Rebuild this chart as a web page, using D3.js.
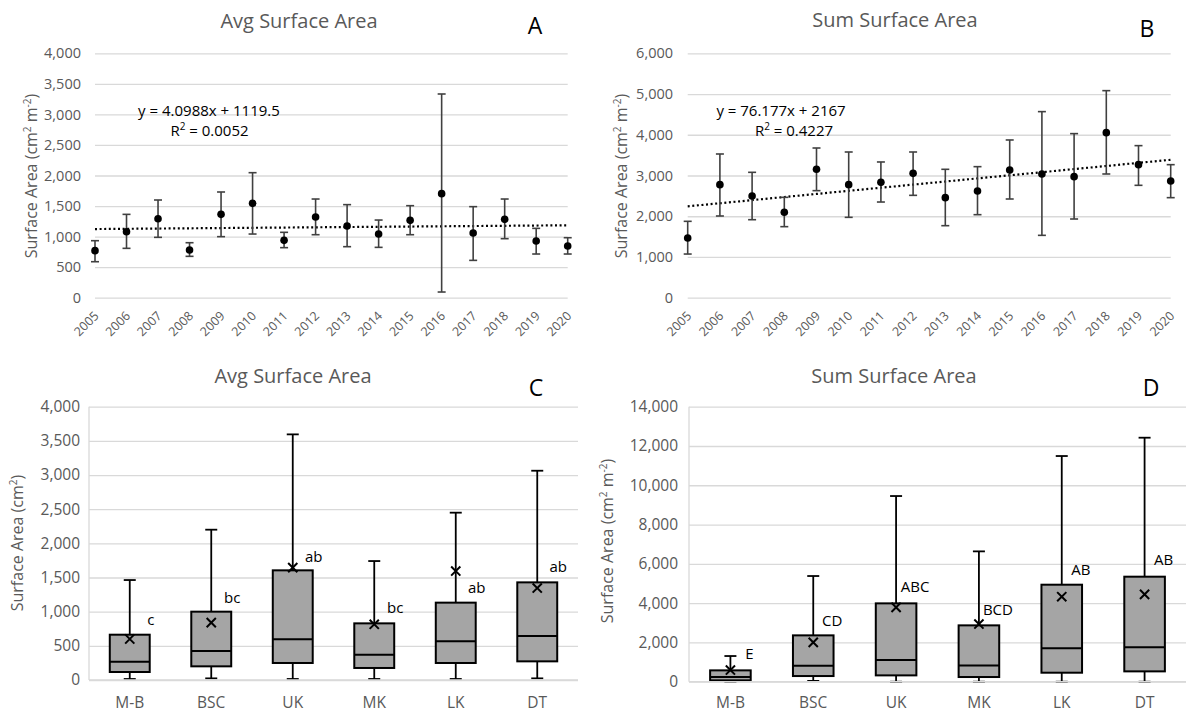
<!DOCTYPE html>
<html>
<head>
<meta charset="utf-8">
<script src="https://cdn.jsdelivr.net/npm/d3@7/dist/d3.min.js"></script>
<style>
  html, body { margin: 0; padding: 0; background: #fff; }
  svg { display: block; font-family: "Open Sans", sans-serif; }
</style>
</head>
<body>
<svg id="chart" width="1187" height="713"></svg>
<script>
// ---------- DATA ----------
const years = ["2005","2006","2007","2008","2009","2010","2011","2012","2013","2014","2015","2016","2017","2018","2019","2020"];

const avgMean  = [770, 1080, 1293, 780, 1364, 1544, 939, 1321, 1173, 1042, 1266, 1703, 1059, 1282, 928, 846];
const avgUpper = [933, 1364, 1599, 900, 1730, 2046, 1070, 1615, 1523, 1271, 1506, 3334, 1490, 1615, 1135, 982];
const avgLower = [589, 808, 988, 677, 999, 1042, 819, 1031, 835, 824, 1031, 93, 611, 966, 715, 715];
const avgTrend = { slope: 4.0988, intercept: 1119.5, r2: "0.0052" };
const avgYTicks = [0, 500, 1000, 1500, 2000, 2500, 3000, 3500, 4000];

const sumMean  = [1465, 2775, 2497, 2096, 3152, 2775, 2832, 3053, 2456, 2620, 3135, 3037, 2972, 4052, 3266, 2865];
const sumUpper = [1875, 3528, 3078, 2464, 3675, 3577, 3332, 3577, 3152, 3217, 3872, 4568, 4028, 5083, 3733, 3266];
const sumLower = [1072, 2006, 1915, 1744, 2628, 1973, 2349, 2513, 1768, 2038, 2423, 1531, 1932, 3037, 2759, 2456];
const sumTrend = { slope: 76.177, intercept: 2167, r2: "0.4227" };
const sumYTicks = [0, 1000, 2000, 3000, 4000, 5000, 6000];

const sites = ["M-B", "BSC", "UK", "MK", "LK", "DT"];

const avgBoxMin    = [15, 24, 15, 15, 15, 24];
const avgBoxQ1     = [117, 200, 249, 176, 249, 273];
const avgBoxMedian = [268, 424, 595, 371, 566, 644];
const avgBoxQ3     = [663, 1000, 1605, 829, 1132, 1429];
const avgBoxMax    = [1463, 2200, 3595, 1741, 2449, 3063];
const avgBoxMeanV  = [600, 839, 1644, 815, 1595, 1346];
const avgLetters   = ["c", "bc", "ab", "bc", "ab", "ab"];
const avgLetterY   = [878, 1205, 1805, 1058, 1356, 1658];
const avgBoxTicks  = [0, 500, 1000, 1500, 2000, 2500, 3000, 3500, 4000];

const sumBoxMin    = [0, 40, 0, 0, 0, 0];
const sumBoxQ1     = [68, 288, 322, 238, 458, 526];
const sumBoxMedian = [238, 815, 1103, 831, 1697, 1748];
const sumBoxQ3     = [577, 2359, 3988, 2868, 4938, 5346];
const sumBoxMax    = [1307, 5380, 9452, 6635, 11489, 12422];
const sumBoxMeanV  = [594, 2002, 3784, 2936, 4327, 4446];
const sumLetters   = ["E", "CD", "ABC", "BCD", "AB", "AB"];
const sumLetterY   = [1442, 3089, 4836, 3682, 5685, 6194];
const sumBoxTicks  = [0, 2000, 4000, 6000, 8000, 10000, 12000, 14000];

// ---------- STYLE ----------
const GRID = "#d9d9d9", TXT = "#595959";
const svg = d3.select("#chart");
const fmt = d3.format(",");

function yTitle(x, y, withM) {
  const t = svg.append("text")
    .attr("transform", `translate(${x},${y}) rotate(-90)`)
    .attr("text-anchor", "middle")
    .attr("fill", TXT)
    .attr("font-size", 16);
  t.append("tspan").text("Surface Area (cm");
  t.append("tspan").attr("font-size", 10).attr("dy", -6).text("2");
  if (withM) {
    t.append("tspan").attr("dy", 6).text(" m");
    t.append("tspan").attr("font-size", 10).attr("dy", -6).text("-2");
    t.append("tspan").attr("dy", 6).text(")");
  } else {
    t.append("tspan").attr("dy", 6).text(")");
  }
}

function titles(title, cx, by, letter, lx, ly) {
  svg.append("text").attr("x", cx).attr("y", by).attr("text-anchor", "middle")
    .attr("fill", TXT).attr("font-size", 20).text(title);
  svg.append("text").attr("x", lx).attr("y", ly).attr("text-anchor", "middle")
    .attr("fill", "#000").attr("font-size", 23).text(letter);
}

function gridAxis(g, y, ticks, x0, x1, pad, fs) {
  const ax = g.append("g").attr("transform", `translate(${x0},0)`)
    .call(d3.axisLeft(y).tickValues(ticks).tickFormat(fmt).tickSize(-(x1 - x0)).tickPadding(pad));
  ax.select(".domain").remove();
  ax.selectAll("line").attr("stroke", GRID).attr("stroke-width", 1.3);
  ax.selectAll("text").attr("fill", TXT).attr("font-size", fs).attr("font-family", "Open Sans");
}

// ---------- SCATTER PANELS ----------
function scatterPanel(cfg) {
  const g = svg.append("g");
  const x = d3.scalePoint().domain(years).range([cfg.x0, cfg.x1]);
  const y = d3.scaleLinear().domain([0, cfg.ticks[cfg.ticks.length - 1]]).range([cfg.yb, cfg.yt]);
  gridAxis(g, y, cfg.ticks, cfg.x0, cfg.x1, cfg.pad, 14.5);

  // rotated year labels
  const xa = g.append("g").attr("transform", `translate(0,${cfg.yb})`)
    .call(d3.axisBottom(x).tickSize(0));
  xa.select(".domain").remove();
  xa.selectAll("text").attr("x", 0).attr("y", 0).attr("dy", 0)
    .attr("text-anchor", "end").attr("transform", "translate(4,19) rotate(-45)")
    .attr("fill", TXT).attr("font-size", 12.5).attr("font-family", "Open Sans");

  // trendline
  const tl = years.map((yr, i) => [x(yr), y(cfg.trend.slope * (i + 1) + cfg.trend.intercept)]);
  g.append("path").attr("d", d3.line()(tl)).attr("fill", "none")
    .attr("stroke", "#000").attr("stroke-width", 2.2).attr("stroke-dasharray", "2,2.6");

  // error bars
  const eb = g.append("g").attr("stroke", "#404040").attr("stroke-width", 1.6);
  years.forEach((yr, i) => {
    const cx = x(yr);
    eb.append("line").attr("x1", cx).attr("x2", cx).attr("y1", y(cfg.upper[i])).attr("y2", y(cfg.lower[i]));
    eb.append("line").attr("x1", cx - 4).attr("x2", cx + 4).attr("y1", y(cfg.upper[i])).attr("y2", y(cfg.upper[i]));
    eb.append("line").attr("x1", cx - 4).attr("x2", cx + 4).attr("y1", y(cfg.lower[i])).attr("y2", y(cfg.lower[i]));
  });
  g.selectAll("circle.pt").data(cfg.mean).join("circle")
    .attr("cx", (d, i) => x(years[i])).attr("cy", d => y(d)).attr("r", 3.8).attr("fill", "#000");

  // equation
  const eq = `y = ${cfg.trend.slope}x + ${cfg.trend.intercept}`;
  svg.append("text").attr("x", cfg.eqx).attr("y", 116).attr("text-anchor", "middle")
    .attr("font-size", 15).attr("fill", "#000").text(eq);
  const r = svg.append("text").attr("x", cfg.r2x).attr("y", 136).attr("text-anchor", "middle")
    .attr("font-size", 15).attr("fill", "#000");
  r.append("tspan").text("R");
  r.append("tspan").attr("font-size", 10).attr("dy", -6).text("2");
  r.append("tspan").attr("dy", 6).text(` = ${cfg.trend.r2}`);
}

scatterPanel({ x0: 95, x1: 567.7, yt: 53.3, yb: 297.7, ticks: avgYTicks, pad: 14,
  mean: avgMean, upper: avgUpper, lower: avgLower, trend: avgTrend, eqx: 209, r2x: 209.5 });
scatterPanel({ x0: 687.7, x1: 1170.7, yt: 53.3, yb: 297.7, ticks: sumYTicks, pad: 14.7,
  mean: sumMean, upper: sumUpper, lower: sumLower, trend: sumTrend, eqx: 781, r2x: 794 });

titles("Avg Surface Area", 299, 27.7, "A", 535, 33.5);
titles("Sum Surface Area", 895, 27, "B", 1147, 37);
yTitle(37, 176, true);
yTitle(627, 176, true);

// ---------- BOX PANELS ----------
function boxPanel(cfg) {
  const g = svg.append("g");
  const x = d3.scaleBand().domain(sites).range([cfg.x0, cfg.x1]).padding(0);
  const y = d3.scaleLinear().domain([0, cfg.ticks[cfg.ticks.length - 1]]).range([cfg.yb, cfg.yt]);
  gridAxis(g, y, cfg.ticks, cfg.x0, cfg.x1, cfg.pad, 15.5);
  g.append("line").attr("x1", cfg.x0).attr("x2", cfg.x0).attr("y1", cfg.yt).attr("y2", cfg.yb)
    .attr("stroke", GRID).attr("stroke-width", 1.3);

  const xa = g.append("g").attr("transform", `translate(0,${cfg.yb})`)
    .call(d3.axisBottom(x).tickSize(0));
  xa.select(".domain").remove();
  xa.selectAll("text").attr("y", cfg.lab).attr("dy", 0)
    .attr("fill", TXT).attr("font-size", 15.5).attr("font-family", "Open Sans");

  const bw = x.bandwidth() * 0.49;
  sites.forEach((s, i) => {
    const cx = x(s) + x.bandwidth() / 2;
    // whiskers
    g.append("line").attr("x1", cx).attr("x2", cx).attr("y1", y(cfg.max[i])).attr("y2", y(cfg.min[i]))
      .attr("stroke", "#000").attr("stroke-width", 1.8);
    [cfg.max[i], cfg.min[i]].forEach(v => {
      g.append("line").attr("x1", cx - 6).attr("x2", cx + 6).attr("y1", y(v)).attr("y2", y(v))
        .attr("stroke", "#000").attr("stroke-width", 1.8);
    });
    // box
    g.append("rect").attr("x", cx - bw / 2).attr("width", bw)
      .attr("y", y(cfg.q3[i])).attr("height", y(cfg.q1[i]) - y(cfg.q3[i]))
      .attr("fill", "#a5a5a5").attr("stroke", "#000").attr("stroke-width", 2);
    g.append("line").attr("x1", cx - bw / 2).attr("x2", cx + bw / 2)
      .attr("y1", y(cfg.median[i])).attr("y2", y(cfg.median[i]))
      .attr("stroke", "#000").attr("stroke-width", 2);
    // mean marker
    const my = y(cfg.mean[i]), m = 4.6;
    g.append("path").attr("d", `M${cx - m},${my - m}L${cx + m},${my + m}M${cx - m},${my + m}L${cx + m},${my - m}`)
      .attr("stroke", "#000").attr("stroke-width", 2).attr("fill", "none");
    // letters
    g.append("text").attr("x", cx + cfg.lx).attr("y", y(cfg.letterY[i])).attr("dy", "0.35em")
      .attr("text-anchor", "middle").attr("font-size", 15).attr("fill", "#000").text(cfg.letters[i]);
  });
  // zero axis line on top
  g.append("line").attr("x1", cfg.x0).attr("x2", cfg.x1).attr("y1", y(0)).attr("y2", y(0))
    .attr("stroke", GRID).attr("stroke-width", 1.6);
}

boxPanel({ x0: 89, x1: 578, yt: 406.7, yb: 680, ticks: avgBoxTicks, pad: 9, lab: 28,
  min: avgBoxMin, q1: avgBoxQ1, median: avgBoxMedian, q3: avgBoxQ3, max: avgBoxMax, mean: avgBoxMeanV,
  letters: avgLetters, letterY: avgLetterY, lx: 21 });
boxPanel({ x0: 689, x1: 1186, yt: 406.7, yb: 681.7, ticks: sumBoxTicks, pad: 11, lab: 26.3,
  min: sumBoxMin, q1: sumBoxQ1, median: sumBoxMedian, q3: sumBoxQ3, max: sumBoxMax, mean: sumBoxMeanV,
  letters: sumLetters, letterY: sumLetterY, lx: 19 });

titles("Avg Surface Area", 293, 383.3, "C", 536, 396);
titles("Sum Surface Area", 894, 383, "D", 1151, 396);
yTitle(23, 543, false);
yTitle(613, 541, true);
</script>
</body>
</html>
